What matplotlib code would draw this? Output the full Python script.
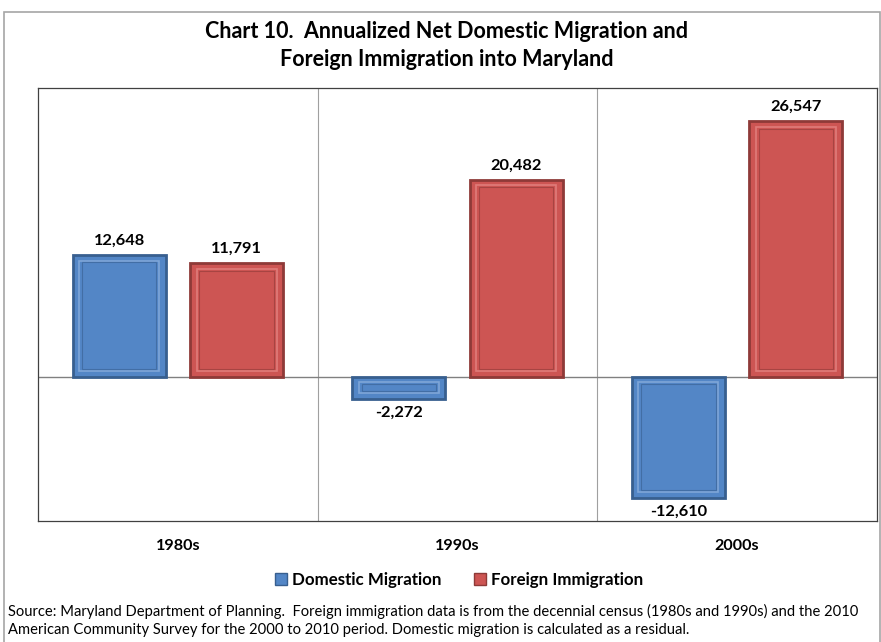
import matplotlib.pyplot as plt
import numpy as np
from matplotlib.patches import Rectangle, Patch

decades = ["1980s", "1990s", "2000s"]
domestic = [12648, -2272, -12610]
foreign = [11791, 20482, 26547]

BLUE = "#5386C6"
BLUE_DARK = "#385F8F"
BLUE_LIGHT = "#7FA6D8"
RED = "#CD5553"
RED_DARK = "#8E3A38"
RED_LIGHT = "#E07C7A"

plt.rcParams["font.family"] = ["Lato", "DejaVu Sans"]


def bevel_bars(ax, xs, vals, color, dark, light, w):
    ax.bar(xs, vals, width=w, color=color, edgecolor=dark, linewidth=2.0, zorder=3)
    # inner frame for the bevelled look
    inset_y = 600
    for x, v in zip(xs, vals):
        s = 1 if v >= 0 else -1
        h = abs(v) - 2 * inset_y
        if h <= 0:
            h = abs(v) * 0.4
            y0 = v * 0.3 if s > 0 else v * 0.7
        else:
            y0 = inset_y if s > 0 else v + inset_y
        ax.add_patch(Rectangle((x - w * 0.43, y0), w * 0.86, h, facecolor="none",
                               edgecolor=light, linewidth=1.2, zorder=4))
        ax.add_patch(Rectangle((x - w * 0.40, y0 + inset_y * 0.3 if h > 0 else y0), w * 0.80,
                               max(h - inset_y * 0.6, h * 0.5), facecolor="none",
                               edgecolor=dark, linewidth=0.8, alpha=0.6, zorder=4))


fig = plt.figure(figsize=(8.81, 6.42), dpi=100)
fig.patches.append(Rectangle((4 / 881, -0.01), 876 / 881, 1 - 12 / 642 + 0.01,
                             transform=fig.transFigure, fill=False,
                             edgecolor="#A6A6A6", linewidth=1.2))

ax = fig.add_axes([38 / 881, 1 - 521 / 642, 839 / 881, 433 / 642])

x = np.arange(len(decades))
w = 0.333
off = 0.21
bevel_bars(ax, x - off, domestic, BLUE, BLUE_DARK, BLUE_LIGHT, w)
bevel_bars(ax, x + off, foreign, RED, RED_DARK, RED_LIGHT, w)

for xs, vals in ((x - off, domestic), (x + off, foreign)):
    for xi, v in zip(xs, vals):
        if v >= 0:
            ax.annotate(f"{v:,}", (xi, v), xytext=(0, 5), textcoords="offset points",
                        ha="center", va="bottom", fontsize=11.8, fontweight="bold")
        else:
            ax.annotate(f"{v:,}", (xi, v), xytext=(0, -5), textcoords="offset points",
                        ha="center", va="top", fontsize=11.8, fontweight="bold")

ax.set_xlim(-0.5, 2.5)
ax.set_ylim(-15000, 30000)
ax.axhline(0, color="#808080", linewidth=1, zorder=2)
for b in (0.5, 1.5):
    ax.axvline(b, color="#A0A0A0", linewidth=0.8, zorder=1)
ax.set_yticks([])
ax.set_xticks(x)
ax.set_xticklabels(decades, fontsize=11.6, fontweight="bold")
ax.tick_params(axis="x", length=0, pad=13)
for sp in ax.spines.values():
    sp.set_color("#404040")
    sp.set_linewidth(0.9)

fig.text(447 / 881, 1 - 32 / 642, "Chart 10.  Annualized Net Domestic Migration and",
         ha="center", va="center", fontsize=15.5, fontweight="bold")
fig.text(447 / 881, 1 - 60 / 642, "Foreign Immigration into Maryland",
         ha="center", va="center", fontsize=15.5, fontweight="bold")

handles = [Patch(facecolor=BLUE, edgecolor=BLUE_DARK, label="Domestic Migration"),
           Patch(facecolor=RED, edgecolor=RED_DARK, label="Foreign Immigration")]
fig.legend(handles=handles, loc="center", bbox_to_anchor=(459 / 881, 1 - 580 / 642),
           ncol=2, frameon=False, prop={"size": 12.2, "weight": "bold"},
           handlelength=0.7, handleheight=0.7, handletextpad=0.3, columnspacing=1.9)

fig.text(8 / 881, 1 - 611 / 642,
         "Source: Maryland Department of Planning.  Foreign immigration data is from the decennial census (1980s and 1990s) and the 2010",
         ha="left", va="center", fontsize=10.6)
fig.text(8 / 881, 1 - 630 / 642,
         "American Community Survey for the 2000 to 2010 period. Domestic migration is calculated as a residual.",
         ha="left", va="center", fontsize=10.6)

fig.savefig("out.png", dpi=100)
